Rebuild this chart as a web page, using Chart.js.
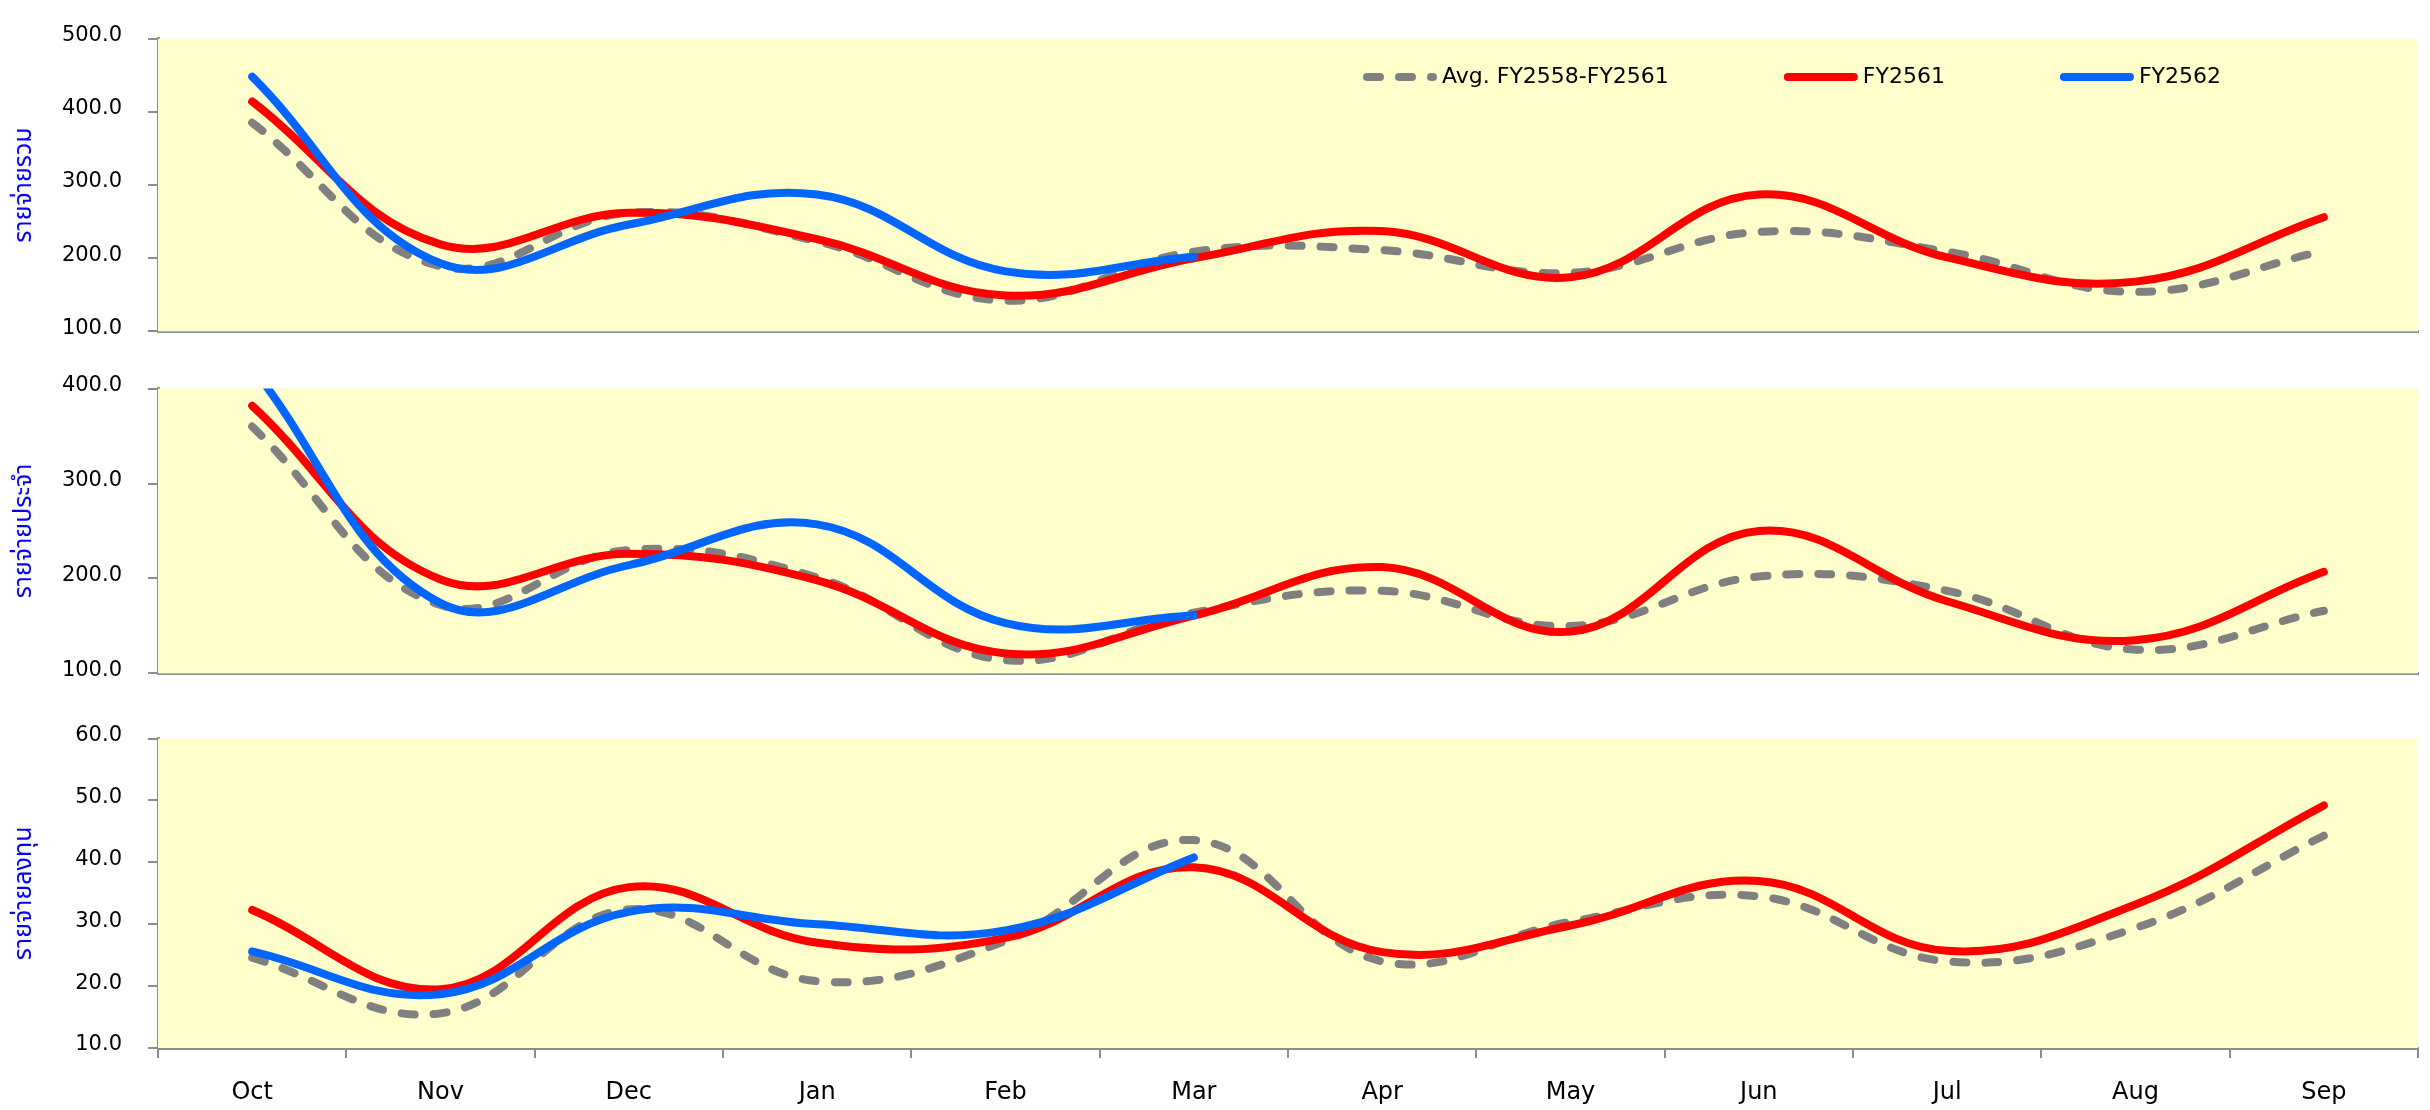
<!DOCTYPE html>
<html>
<head>
<meta charset="utf-8">
<title>รายจ่าย FY2562</title>
<script src="https://cdn.jsdelivr.net/npm/chart.js@4.4.1/dist/chart.umd.min.js"></script>
<style>
  html, body { margin: 0; padding: 0; background: #ffffff; }
  #wrap { position: relative; width: 2430px; height: 1110px; overflow: hidden; }
  .panel { position: absolute; left: 0; width: 2430px; }
  canvas { display: block; }
</style>
</head>
<body>
<div id="wrap">
  <div class="panel" style="top:0px;height:370px"><canvas id="total" width="2430" height="370"></canvas></div>
  <div class="panel" style="top:350px;height:362px"><canvas id="current" width="2430" height="362"></canvas></div>
  <div class="panel" style="top:700px;height:410px"><canvas id="capital" width="2430" height="410"></canvas></div>
</div>
<script>
// Fiscal-year months
const months = ['Oct', 'Nov', 'Dec', 'Jan', 'Feb', 'Mar', 'Apr', 'May', 'Jun', 'Jul', 'Aug', 'Sep'];
const seriesNames = ['Avg. FY2558-FY2561', 'FY2561', 'FY2562'];

// Total expenditure (รายจ่ายรวม)
const avgTotal  = [385, 189, 262, 223, 142, 209, 211, 180, 236, 209, 154, 210];
const fy61Total = [414, 219, 262, 226, 149, 200, 237, 174, 287, 201, 168, 256];
const fy62Total = [448, 193, 246, 287, 182, 202];

// Current expenditure (รายจ่ายประจำ)
const avgCurrent  = [360, 172, 230, 201, 114, 164, 187, 150, 202, 187, 125, 166];
const fy61Current = [382, 199, 226, 198, 121, 161, 212, 144, 250, 176, 135, 207];
const fy62Current = [422, 174, 214, 257, 153, 161];

// Capital expenditure (รายจ่ายลงทุน)
const avgCapital  = [24.6, 15.6, 32.4, 20.8, 27.3, 43.6, 24.0, 30.4, 34.5, 24.0, 29.4, 44.3];
const fy61Capital = [32.3, 19.5, 36.0, 27.0, 27.8, 39.2, 25.5, 29.8, 37.0, 25.7, 33.2, 49.2];
const fy62Capital = [25.6, 18.7, 32.0, 30.0, 29.0, 40.8];

// Axis ranges
const totalTicks   = { min: 100, max: 500, step: 100 };
const currentTicks = { min: 100, max: 400, step: 100 };
const capitalTicks = { min: 10,  max: 60,  step: 10 };

const AXIS_GREY = '#8c8c8c';
const LATIN = '"DejaVu Sans", Verdana, sans-serif';
const THAI = 'Tahoma, "Noto Sans Thai", "Noto Sans", "DejaVu Sans", sans-serif';

// Pale yellow plot area
const plotBackground = {
  id: 'plotBackground',
  beforeDatasetsDraw(chart) {
    const { ctx, chartArea: a } = chart;
    ctx.save();
    ctx.fillStyle = '#ffffcc';
    ctx.fillRect(a.left, a.top, a.right - a.left, a.bottom - a.top);
    ctx.restore();
  }
};

// Legend drawn inside the plot area of the first panel
const insideLegend = {
  id: 'insideLegend',
  afterDatasetsDraw(chart, args, o) {
    if (!o || !o.display) return;
    const ctx = chart.ctx;
    ctx.save();
    ctx.font = '22px ' + LATIN;
    ctx.textBaseline = 'middle';
    ctx.textAlign = 'left';
    let x = o.x;
    const y = o.y;
    chart.data.datasets.forEach(ds => {
      ctx.strokeStyle = ds.borderColor;
      ctx.lineWidth = ds.borderWidth;
      ctx.lineCap = 'round';
      ctx.setLineDash(ds.borderDash || []);
      ctx.beginPath();
      ctx.moveTo(x + 4, y);
      ctx.lineTo(x + o.symbolWidth - 4, y);
      ctx.stroke();
      ctx.setLineDash([]);
      ctx.fillStyle = '#000000';
      ctx.fillText(ds.label, x + o.symbolWidth + 5, y);
      x += o.symbolWidth + 5 + ctx.measureText(ds.label).width + o.gap;
    });
    ctx.restore();
  }
};

function datasets(avg, fy61, fy62) {
  const common = { fill: false, tension: 0.4, pointRadius: 0, pointHoverRadius: 0,
                   borderWidth: 8, borderCapStyle: 'round', borderJoinStyle: 'round', clip: 0 };
  return [
    Object.assign({}, common, { label: seriesNames[0], data: avg,  borderColor: '#808080',
                                borderDash: [13, 19], order: 3 }),
    Object.assign({}, common, { label: seriesNames[1], data: fy61, borderColor: '#ff0000', order: 2 }),
    Object.assign({}, common, { label: seriesNames[2], data: fy62, borderColor: '#0066ff', order: 1 })
  ];
}

function makePanel(id, title, data, range, cfg) {
  const showMonths = !!cfg.showMonths;
  return new Chart(document.getElementById(id), {
    type: 'line',
    data: { labels: months, datasets: data },
    plugins: [plotBackground, insideLegend],
    options: {
      responsive: false,
      maintainAspectRatio: false,
      animation: false,
      events: [],
      layout: { padding: { left: 0, right: 12, top: cfg.top, bottom: cfg.bottom } },
      plugins: {
        legend: { display: false },
        tooltip: { enabled: false },
        insideLegend: cfg.legend || { display: false }
      },
      scales: {
        x: {
          type: 'category',
          offset: true,
          grid: {
            offset: true,
            display: true,
            drawOnChartArea: false,
            drawTicks: showMonths,
            tickLength: 10,
            color: AXIS_GREY,
            lineWidth: 2
          },
          border: { display: true, color: AXIS_GREY, width: 3 },
          ticks: {
            display: showMonths,
            color: '#000000',
            font: { family: LATIN, size: 24 },
            padding: 20,
            maxRotation: 0,
            autoSkip: false
          },
          afterFit: showMonths ? (s) => { s.height = 60; } : undefined
        },
        y: {
          min: range.min,
          max: range.max,
          grid: {
            display: true,
            drawOnChartArea: false,
            drawTicks: true,
            tickLength: 10,
            color: AXIS_GREY,
            lineWidth: 2
          },
          border: { display: true, color: AXIS_GREY, width: 3 },
          ticks: {
            stepSize: range.step,
            color: '#000000',
            font: { family: LATIN, size: 21 },
            padding: 26,
            labelOffset: -3,
            callback: (v) => Number(v).toFixed(1)
          },
          title: {
            display: true,
            text: title,
            color: '#0000ff',
            font: { family: THAI, size: 25 },
            padding: { top: 11, bottom: 0 }
          },
          afterFit: (s) => { s.width = 158; }
        }
      }
    }
  });
}

makePanel('total', 'รายจ่ายรวม', datasets(avgTotal, fy61Total, fy62Total), totalTicks,
  { top: 23, bottom: 22, legend: { display: true, x: 1363, y: 77, symbolWidth: 74, gap: 115 } });
makePanel('current', 'รายจ่ายประจำ', datasets(avgCurrent, fy61Current, fy62Current), currentTicks,
  { top: 23, bottom: 15 });
makePanel('capital', 'รายจ่ายลงทุน', datasets(avgCapital, fy61Capital, fy62Capital), capitalTicks,
  { top: 24, bottom: 2, showMonths: true });
</script>
</body>
</html>
